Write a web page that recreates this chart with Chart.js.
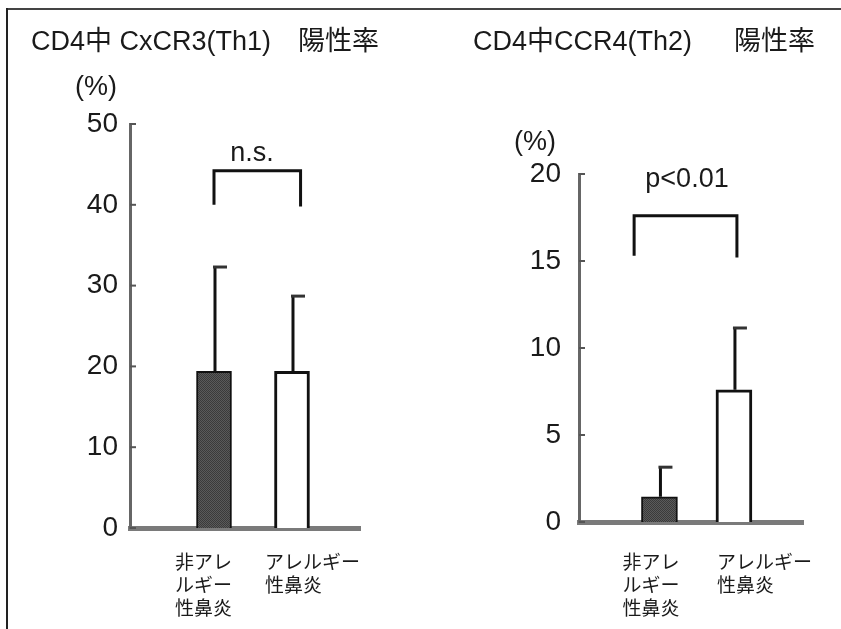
<!DOCTYPE html>
<html>
<head>
<meta charset="utf-8">
<script src="https://cdn.jsdelivr.net/npm/chart.js@4.4.1/dist/chart.umd.min.js"></script>
<style>
  html, body { margin: 0; padding: 0; background: #fff; overflow: hidden; }
  #page { position: relative; width: 841px; height: 629px; overflow: hidden; }
  .rule { position: absolute; background: #444; }
  .panel { position: absolute; top: 0; }
</style>
</head>
<body>
<div id="page">
  <div class="rule" style="left:6px; top:8px; width:835px; height:2px;"></div>
  <div class="rule" style="left:6px; top:8px; width:2px; height:621px; background:#222;"></div>
  <div class="panel" style="left:0"><canvas id="th1" width="420" height="629"></canvas></div>
  <div class="panel" style="left:420px"><canvas id="th2" width="421" height="629"></canvas></div>
</div>
<script>
// values
const groupLabels = [['非アレ', 'ルギー', '性鼻炎'], ['アレルギー', '性鼻炎']];

const th1Title = 'CD4中 CxCR3(Th1)\u3000陽性率';
const th1Means = [19.4, 19.4];
const th1SD = [12.9, 9.3];
const th1Ticks = [0, 10, 20, 30, 40, 50];
const th1Bracket = [44.2, 40.0, 39.8];   // top, left leg end, right leg end
const th1Sig = 'n.s.';

const th2Title = 'CD4中CCR4(Th2)\u3000  陽性率';
const th2Means = [1.45, 7.6];
const th2SD = [1.7, 3.55];
const th2Ticks = [0, 5, 10, 15, 20];
const th2Bracket = [17.6, 15.3, 15.2];
const th2Sig = 'p<0.01';

const unitLabel = '(%)';

const LATIN = '"Liberation Sans", Arial, "Noto Sans CJK JP", sans-serif';
const JP = '"Noto Sans CJK JP", "Liberation Sans", sans-serif';

// stippled dark fill for the first group
function darkPattern() {
    const c = document.createElement('canvas');
    c.width = 2; c.height = 2;
    const g = c.getContext('2d');
    g.fillStyle = '#5a5a5a'; g.fillRect(0, 0, 2, 2);
    g.fillStyle = '#3a3a3a'; g.fillRect(0, 0, 1, 1); g.fillRect(1, 1, 1, 1);
    return g.createPattern(c, 'repeat');
}

// error bars, bracket, labels and titles
function panelPlugin(p) {
    return {
        id: 'panelExtras',
        afterDatasetsDraw(chart) {
            const ctx = chart.ctx;
            const xs = chart.scales.x, ys = chart.scales.y;
            const area = chart.chartArea;
            ctx.save();

            // small inward ticks on the y axis
            ctx.strokeStyle = '#555';
            ctx.lineWidth = 2;
            p.ticks.forEach(v => {
                const y = ys.getPixelForValue(v);
                ctx.beginPath();
                ctx.moveTo(area.left, y);
                ctx.lineTo(area.left + 6, y);
                ctx.stroke();
            });

            // error bars (upper only, cap to the right)
            const meta = chart.getDatasetMeta(0);
            meta.data.forEach((bar, i) => {
                const top = ys.getPixelForValue(p.means[i] + p.sd[i]);
                ctx.strokeStyle = '#111';
                ctx.lineWidth = 3;
                ctx.beginPath();
                ctx.moveTo(bar.x + 1, bar.y);
                ctx.lineTo(bar.x + 1, top);
                ctx.stroke();
                ctx.strokeStyle = '#333';
                ctx.beginPath();
                ctx.moveTo(bar.x - 1, top);
                ctx.lineTo(bar.x + 13, top);
                ctx.stroke();
            });

            // significance bracket
            const bx0 = xs.getPixelForValue(p.bracketX[0]);
            const bx1 = xs.getPixelForValue(p.bracketX[1]);
            const bt = ys.getPixelForValue(p.bracket[0]);
            ctx.strokeStyle = '#111';
            ctx.lineWidth = 3;
            ctx.beginPath();
            ctx.moveTo(bx0, ys.getPixelForValue(p.bracket[1]));
            ctx.lineTo(bx0, bt);
            ctx.lineTo(bx1, bt);
            ctx.lineTo(bx1, ys.getPixelForValue(p.bracket[2]));
            ctx.stroke();

            ctx.fillStyle = '#1a1a1a';
            ctx.font = '27px ' + LATIN;
            ctx.textAlign = 'center';
            ctx.textBaseline = 'middle';
            ctx.fillText(p.sig, p.sigPos[0], p.sigPos[1]);

            // unit label above the axis
            ctx.fillText(unitLabel, area.left + p.unitPos[0], area.top + p.unitPos[1]);

            // panel title
            ctx.textAlign = 'left';
            ctx.font = '27px ' + LATIN;
            ctx.fillText(p.title, p.titlePos[0], p.titlePos[1]);

            // group labels under the baseline
            ctx.font = '19px ' + JP;
            groupLabels.forEach((lines, i) => {
                const x = xs.getPixelForValue(i) + p.labelShift[i];
                lines.forEach((line, k) => {
                    ctx.fillText(line, x, 562 + k * 23);
                });
            });
            ctx.restore();
        }
    };
}

function makePanel(id, p) {
    const fills = [darkPattern(), '#ffffff'];
    new Chart(document.getElementById(id), {
        type: 'bar',
        data: {
            datasets: [{
                data: p.means.map((v, i) => ({ x: i, y: v })),
                backgroundColor: fills,
                borderColor: '#111',
                borderWidth: [2, 3],
                barThickness: p.barWidth
            }]
        },
        options: {
            responsive: false,
            animation: false,
            events: [],
            layout: { padding: p.padding },
            plugins: { legend: { display: false }, tooltip: { enabled: false } },
            scales: {
                x: {
                    type: 'linear',
                    offset: false,
                    min: p.xRange[0],
                    max: p.xRange[1],
                    grid: { display: false, drawTicks: false },
                    ticks: { display: false },
                    border: { display: true, color: '#7a7a7a', width: 5 },
                    afterFit(s) { s.height = 0; }
                },
                y: {
                    min: 0,
                    max: p.ticks[p.ticks.length - 1],
                    afterBuildTicks(s) { s.ticks = p.ticks.map(v => ({ value: v })); },
                    grid: { display: false, drawTicks: false },
                    border: { display: true, color: '#666', width: 3 },
                    ticks: {
                        padding: p.tickPad,
                        color: '#1a1a1a',
                        font: { family: LATIN, size: 28 }
                    },
                    afterFit(s) { s.width = p.axisWidth; }
                }
            }
        },
        plugins: [panelPlugin(p)]
    });
}

makePanel('th1', {
    title: th1Title, means: th1Means, sd: th1SD, ticks: th1Ticks,
    bracket: th1Bracket, bracketX: [0, 1.11], sig: th1Sig,
    padding: { left: 70, right: 60, top: 124, bottom: 101 },
    axisWidth: 60, tickPad: 12, xRange: [-1.077, 1.872], barWidth: 35,
    sigPos: [252, 154], unitPos: [-34, -36], titlePos: [31, 43],
    labelShift: [-39, -27]
});

makePanel('th2', {
    title: th2Title, means: th2Means, sd: th2SD, ticks: th2Ticks,
    bracket: th2Bracket, bracketX: [-0.34, 1.04], sig: th2Sig,
    padding: { left: 89, right: 38, top: 174, bottom: 107 },
    axisWidth: 70, tickPad: 18, xRange: [-1.08, 1.927], barWidth: 36,
    sigPos: [267, 180], unitPos: [-44, -31], titlePos: [53, 43],
    labelShift: [-37, -17]
});
</script>
</body>
</html>
